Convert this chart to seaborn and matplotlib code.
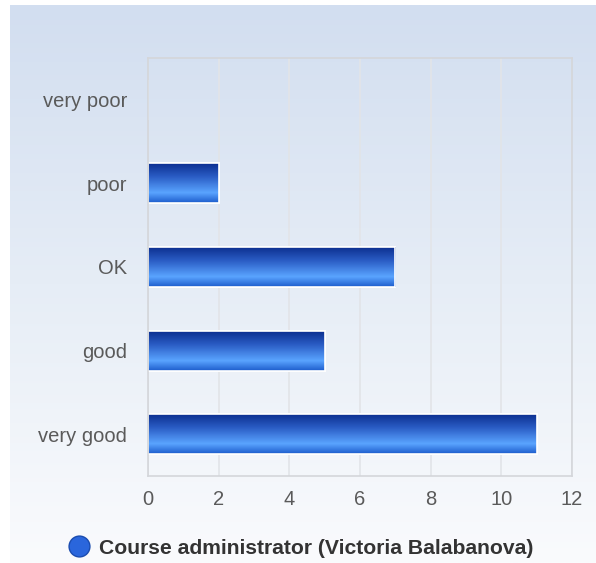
import matplotlib
matplotlib.use('Agg')
import matplotlib.pyplot as plt
import seaborn as sns
import numpy as np
import pandas as pd
from matplotlib.colors import LinearSegmentedColormap
from matplotlib.lines import Line2D

categories = ['very poor', 'poor', 'OK', 'good', 'very good']
counts = [0, 2, 7, 5, 11]
x_ticks = [0, 2, 4, 6, 8, 10, 12]
series_name = 'Course administrator (Victoria Balabanova)'

sns.set_style('white')
plt.rcParams['font.family'] = ['Liberation Sans', 'DejaVu Sans']

fig = plt.figure(figsize=(5.96, 5.63), dpi=100)

# page background: light blue fading to white
bg = fig.add_axes([10 / 596, 0, 1 - 10 / 596, 1 - 5 / 563], zorder=-10)
bg_cmap = LinearSegmentedColormap.from_list('bg', ['#d2def0', '#e6edf6', '#fafbfd'])
bg.imshow(np.linspace(0, 1, 256).reshape(-1, 1), cmap=bg_cmap, aspect='auto',
          extent=[0, 1, 0, 1])
bg.axis('off')

ax = fig.add_axes([148 / 596, 1 - 476 / 563, 424 / 596, 418 / 563])
ax.patch.set_alpha(0)

df = pd.DataFrame({'rating': categories, 'count': counts})
sns.barplot(data=df, y='rating', x='count', orient='h', ax=ax, width=0.48,
            color='#2a62d0', edgecolor='white', linewidth=1.2)

# vertical gradient on each bar (top dark, light band low, darker bottom edge)
bar_cmap = LinearSegmentedColormap.from_list(
    'bar', [(0, '#0a2c8c'), (0.35, '#2a5cc4'), (0.75, '#5aa4ff'), (1, '#1c5ccc')])
grad = np.linspace(0, 1, 128).reshape(-1, 1)[::-1]
for p in ax.patches:
    w = p.get_width()
    if w <= 0:
        continue
    y0 = p.get_y()
    h = p.get_height()
    im = ax.imshow(grad, cmap=bar_cmap, aspect='auto', zorder=p.get_zorder() + 0.1,
                   extent=[p.get_x(), p.get_x() + w, y0, y0 + h])
    im.set_clip_path(p)
    ax.add_patch(plt.Rectangle((p.get_x(), y0), w, h, fill=False,
                               edgecolor='white', linewidth=1.2,
                               zorder=p.get_zorder() + 0.2))

ax.set_xlim(0, 12)
ax.set_ylim(4.5, -0.5)
ax.set_xticks(x_ticks)
ax.set_xticklabels([str(t) for t in x_ticks])
ax.grid(axis='x', color='#e2e4e8', linewidth=1.2)
ax.set_axisbelow(True)
for s in ax.spines.values():
    s.set_color('#d4d6da')
    s.set_linewidth(1.2)
ax.set_xlabel('')
ax.set_ylabel('')
ax.tick_params(axis='both', length=0, labelsize=14.5, labelcolor='#5a5a5a')
ax.tick_params(axis='y', pad=15)
ax.tick_params(axis='x', pad=10)

handle = Line2D([], [], marker='o', linestyle='none', markersize=15,
                markerfacecolor='#2a66dc', markeredgecolor='#1a4cb0')
fig.legend([handle], [series_name], loc='center', bbox_to_anchor=(0.505, 1 - 548 / 563),
           frameon=False, handletextpad=0.45, handlelength=1.0,
           prop={'weight': 'bold', 'size': 15.2})
fig.legends[0].get_texts()[0].set_color('#333333')

fig.savefig('out.png', dpi=100)
